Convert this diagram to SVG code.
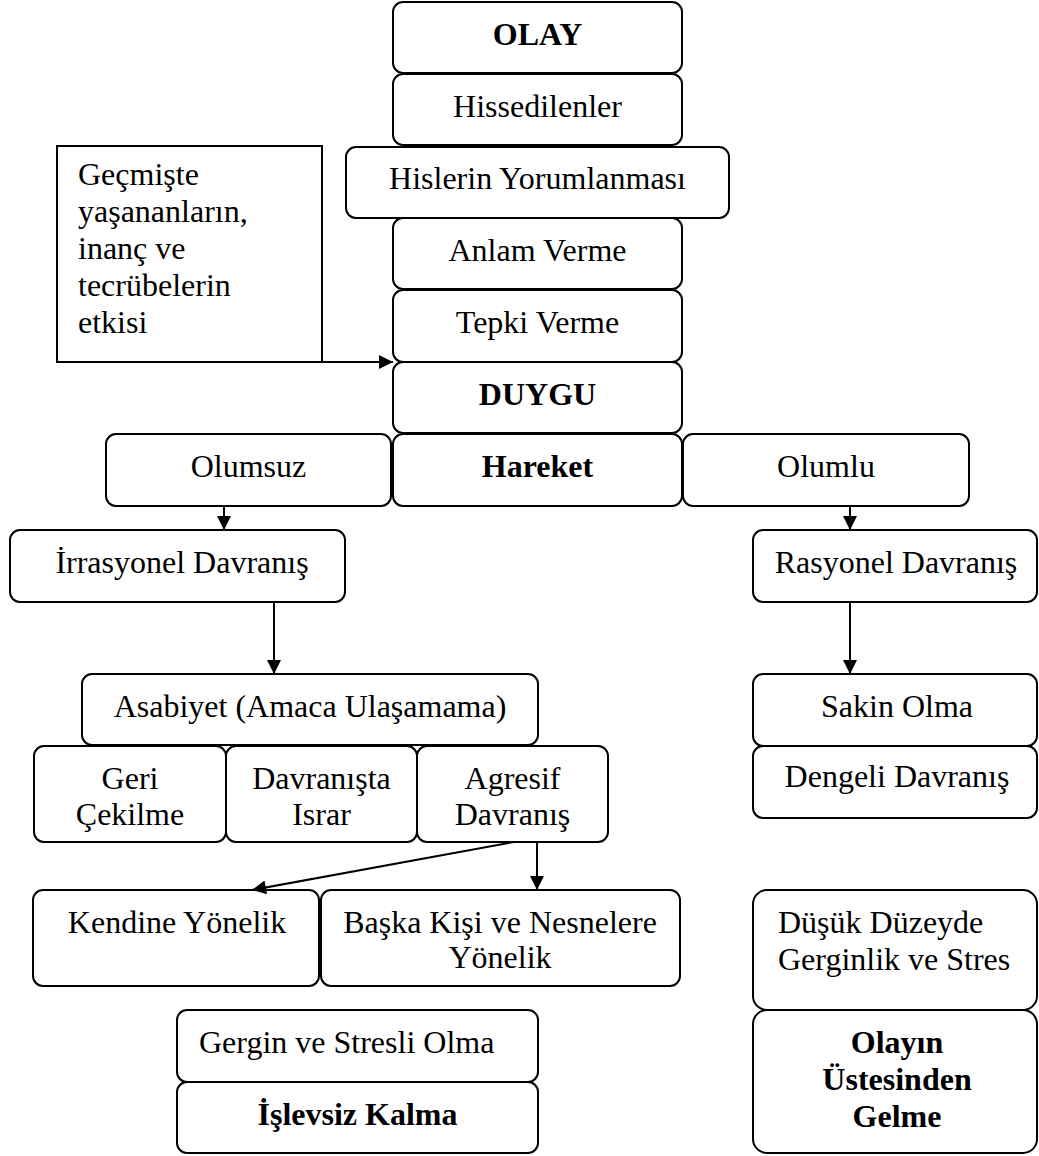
<svg xmlns="http://www.w3.org/2000/svg" width="1039" height="1156" viewBox="0 0 1039 1156">
<style>
.b{fill:#fff;stroke:#000;stroke-width:2}
.t{font-family:"Liberation Serif","Times New Roman",serif;font-size:32px;fill:#000}
.c{text-anchor:middle}
.bd{font-weight:bold}
.ln{stroke:#000;stroke-width:2;fill:none}
</style>
<defs>
<marker id="ah" viewBox="0 0 10 10" refX="10" refY="5" markerUnits="userSpaceOnUse" markerWidth="16" markerHeight="14" orient="auto">
<path d="M0,0 L10,5 L0,10 z" fill="#000"/>
</marker>
</defs>
<rect width="1039" height="1156" fill="#fff"/>
<g id="olay"><rect class="b" x="393" y="2" width="289" height="71" rx="10"/><text class="t c bd" x="537.5" y="45">OLAY</text></g>
<g id="hissedilenler"><rect class="b" x="393" y="74" width="289" height="71" rx="10"/><text class="t c" x="537.5" y="117">Hissedilenler</text></g>
<g id="hislerin"><rect class="b" x="346" y="147" width="383" height="71" rx="10"/><text class="t c" x="537.5" y="189">Hislerin Yorumlanması</text></g>
<g id="anlam"><rect class="b" x="393" y="218" width="289" height="71" rx="10"/><text class="t c" x="537.5" y="261">Anlam Verme</text></g>
<g id="tepki"><rect class="b" x="393" y="290" width="289" height="72" rx="10"/><text class="t c" x="537.5" y="333">Tepki Verme</text></g>
<g id="duygu"><rect class="b" x="393" y="362" width="289" height="71" rx="10"/><text class="t c bd" x="537.5" y="405">DUYGU</text></g>
<g id="gecmis"><rect class="b" x="57" y="146" width="265" height="216"/>
<text class="t" x="78" y="185">Geçmişte</text>
<text class="t" x="78" y="222">yaşananların,</text>
<text class="t" x="78" y="259">inanç ve</text>
<text class="t" x="78" y="296">tecrübelerin</text>
<text class="t" x="78" y="333">etkisi</text></g>
<g id="olumsuz"><rect class="b" x="106" y="434" width="285" height="72" rx="10"/><text class="t c" x="248.5" y="477">Olumsuz</text></g>
<g id="hareket"><rect class="b" x="393" y="434" width="289" height="72" rx="10"/><text class="t c bd" x="537.5" y="477">Hareket</text></g>
<g id="olumlu"><rect class="b" x="683" y="434" width="286" height="72" rx="10"/><text class="t c" x="826" y="477">Olumlu</text></g>
<g id="irrasyonel"><rect class="b" x="10" y="530" width="335" height="72" rx="10"/><text class="t c" x="182" y="573">İrrasyonel Davranış</text></g>
<g id="rasyonel"><rect class="b" x="753" y="530" width="284" height="72" rx="10"/><text class="t c" x="896" y="573">Rasyonel Davranış</text></g>
<g id="asabiyet"><rect class="b" x="82" y="674" width="456" height="71" rx="10"/><text class="t c" x="310" y="717">Asabiyet (Amaca Ulaşamama)</text></g>
<g id="geri"><rect class="b" x="34" y="746" width="192" height="96" rx="10"/><text class="t c" x="130" y="789">Geri</text><text class="t c" x="130" y="825">Çekilme</text></g>
<g id="israr"><rect class="b" x="226" y="746" width="191" height="96" rx="10"/><text class="t c" x="321.5" y="789">Davranışta</text><text class="t c" x="321.5" y="825">Israr</text></g>
<g id="agresif"><rect class="b" x="417" y="746" width="191" height="96" rx="10"/><text class="t c" x="512.5" y="789">Agresif</text><text class="t c" x="512.5" y="825">Davranış</text></g>
<g id="kendine"><rect class="b" x="33" y="890" width="286" height="96" rx="10"/><text class="t c" x="177" y="933">Kendine Yönelik</text></g>
<g id="baska"><rect class="b" x="321" y="890" width="359" height="96" rx="10"/><text class="t c" x="500" y="933">Başka Kişi ve Nesnelere</text><text class="t c" x="500" y="968">Yönelik</text></g>
<g id="gergin"><rect class="b" x="177" y="1010" width="361" height="72" rx="10"/><text class="t" x="199" y="1053">Gergin ve Stresli Olma</text></g>
<g id="islevsiz"><rect class="b" x="177" y="1082" width="361" height="71" rx="10"/><text class="t c bd" x="357.5" y="1125">İşlevsiz Kalma</text></g>
<g id="sakin"><rect class="b" x="753" y="674" width="284" height="72" rx="10"/><text class="t c" x="897" y="717">Sakin Olma</text></g>
<g id="dengeli"><rect class="b" x="753" y="746" width="284" height="72" rx="10"/><text class="t c" x="897" y="787">Dengeli Davranış</text></g>
<g id="dusuk"><rect class="b" x="753" y="890" width="284" height="120" rx="14"/><text class="t" x="778" y="933">Düşük Düzeyde</text><text class="t" x="778" y="970">Gerginlik ve Stres</text></g>
<g id="olayin"><rect class="b" x="753" y="1010" width="284" height="143" rx="14"/><text class="t c bd" x="897" y="1053">Olayın</text><text class="t c bd" x="897" y="1090">Üstesinden</text><text class="t c bd" x="897" y="1127">Gelme</text></g>
<g id="connectors">
<line class="ln" x1="322" y1="362" x2="393" y2="362" marker-end="url(#ah)"/>
<line class="ln" x1="224" y1="506" x2="224" y2="530" marker-end="url(#ah)"/>
<line class="ln" x1="850" y1="506" x2="850" y2="530" marker-end="url(#ah)"/>
<line class="ln" x1="274" y1="602" x2="274" y2="674" marker-end="url(#ah)"/>
<line class="ln" x1="850" y1="602" x2="850" y2="674" marker-end="url(#ah)"/>
<line class="ln" x1="514" y1="842" x2="252" y2="890" marker-end="url(#ah)"/>
<line class="ln" x1="537" y1="842" x2="537" y2="890" marker-end="url(#ah)"/>
</g>
</svg>
